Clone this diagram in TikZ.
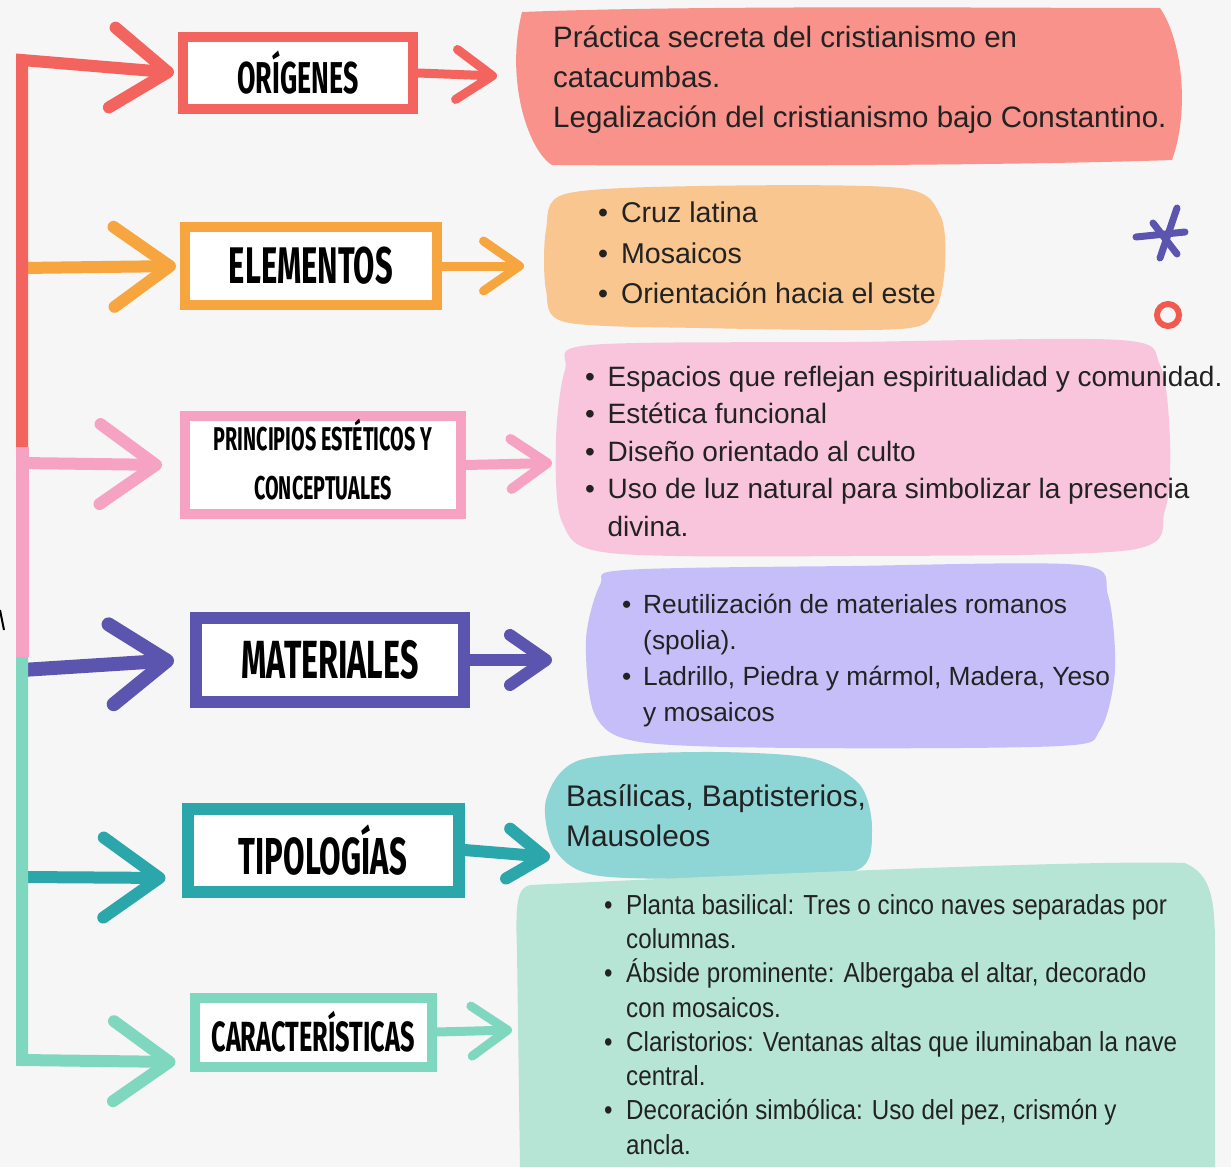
\documentclass[tikz,border=0pt]{standalone}
\usepackage{fontspec}
\usepackage{graphicx}
\setmainfont{Liberation Sans}
\newfontfamily\titlefont{Fira Sans}[FakeStretch=0.6]
\newfontfamily\condfont{Liberation Sans}[FakeStretch=0.88]
\usetikzlibrary{arrows.meta}
\definecolor{bg}{HTML}{F6F6F6}
\definecolor{cRed}{HTML}{F4645E}
\definecolor{cOrange}{HTML}{F7A63F}
\definecolor{cPink}{HTML}{F6A3C3}
\definecolor{cPurple}{HTML}{5B55AF}
\definecolor{cTeal}{HTML}{2BA6AA}
\definecolor{cMint}{HTML}{80D7BF}
\definecolor{bRed}{HTML}{F8928A}
\definecolor{bOrange}{HTML}{F9C68F}
\definecolor{bPink}{HTML}{F9C5DC}
\definecolor{bPurple}{HTML}{C5BEF8}
\definecolor{bTeal}{HTML}{8ED5D6}
\definecolor{bMint}{HTML}{B6E4D5}
\definecolor{dot}{HTML}{F05A4F}
\definecolor{txt}{HTML}{222222}
\newcommand\ttl[2]{\resizebox{#1}{!}{\titlefont\bfseries #2}}
\newcommand\bul{\makebox[0.8em][l]{•}}
\newcommand\ind{\hspace*{0.8em}}
\tikzset{
  box/.style={draw, fill=white, line width=10pt, rectangle, inner sep=0pt},
  chev/.style={line width=12pt, line join=miter, -{Straight Barb[length=56pt,width=80pt,round]}, shorten >=4pt},
  outarr/.style={line width=9pt, -{Straight Barb[length=36pt,width=50pt,round]}},
  trunk/.style={line width=13pt},
  body/.style={anchor=north west, inner sep=0pt, align=left, text=txt},
  deco/.style={cPurple, line width=7pt, line cap=round},
}
\begin{document}
\begin{tikzpicture}[x=1pt,y=-1pt]
\useasboundingbox (0,0) rectangle (1231,1167);
\fill[bg] (0,0) rectangle (1231,1167);

% blobs
\fill[bRed] (522,12) .. controls (700,5) and (1000,8) .. (1160,8)
  .. controls (1182,40) and (1190,110) .. (1172,160)
  .. controls (1000,166) and (700,166) .. (552,165)
  .. controls (528,150) and (505,80) .. (522,12) -- cycle;
\fill[bOrange] plot[smooth cycle, tension=0.5] coordinates {(565,194) (700,186) (900,188) (940,215) (945,265) (935,310) (900,329) (700,328) (565,322) (546,290) (546,230)};
\fill[bPink] plot[smooth cycle, tension=0.5] coordinates {(590,345) (850,342) (1120,340) (1160,365) (1170,440) (1165,510) (1130,550) (850,556) (610,553) (562,522) (556,440) (565,370)};
\fill[bPurple] plot[smooth cycle, tension=0.5] coordinates {(625,570) (850,566) (1080,565) (1108,595) (1115,670) (1100,730) (1060,746) (800,748) (640,742) (595,715) (586,640) (600,585)};
\fill[bTeal] plot[smooth cycle, tension=0.5] coordinates {(580,760) (700,752) (810,758) (860,785) (872,830) (857,870) (750,878) (600,876) (555,850) (546,800)};
\fill[bMint] (530,885) .. controls (800,872) and (1100,860) .. (1185,863)
  .. controls (1212,875) and (1215,900) .. (1215,950) -- (1215,1167) -- (520,1167) -- (517,950)
  .. controls (515,900) and (518,888) .. (530,885) -- cycle;

% decorations
\draw[deco] (1177,208) -- (1160,258);
\draw[deco] (1136,237) -- (1185,232);
\draw[deco] (1153,223) -- (1177,254);
\draw[dot, line width=6pt] (1168,315) circle (11);
\draw[black, line width=2pt] (0,610) -- (4,630);

% body texts
\node[body, font=\fontsize{29.5}{40}\selectfont] (tO) at (553,26)
 {Práctica secreta del cristianismo en\\catacumbas.\\Legalización del cristianismo bajo Constantino.};
\node[body, font=\fontsize{28.6}{40.5}\selectfont] (tE) at (598,202)
 {\bul Cruz latina\\\bul Mosaicos\\\bul Orientación hacia el este};
\node[body, font=\fontsize{28}{37.5}\selectfont] (tP) at (585,366)
 {\bul Espacios que reflejan espiritualidad y comunidad.\\\bul Estética funcional\\\bul Diseño orientado al culto\\\bul Uso de luz natural para simbolizar la presencia\\\ind divina.};
\node[body, font=\fontsize{26.3}{36}\selectfont] (tM) at (622,594)
 {\bul Reutilización de materiales romanos\\\ind (spolia).\\\bul Ladrillo, Piedra y mármol, Madera, Yeso\\\ind y mosaicos};
\node[body, font=\fontsize{29.8}{40}\selectfont] (tT) at (566,784)
 {Basílicas, Baptisterios,\\Mausoleos};
\node[body, font=\condfont\fontsize{27.5}{34.3}\selectfont] (tC) at (604,894)
 {\bul Planta basilical: Tres o cinco naves separadas por\\\ind columnas.\\\bul Ábside prominente: Albergaba el altar, decorado\\\ind con mosaicos.\\\bul Claristorios: Ventanas altas que iluminaban la nave\\\ind central.\\\bul Decoración simbólica: Uso del pez, crismón y\\\ind ancla.};

% boxes
\node[box, draw=cRed, minimum width=230pt, minimum height=72pt] (orig) at (298,73) {\ttl{121pt}{ORÍGENES}};
\node[box, draw=cOrange, minimum width=252pt, minimum height=78pt] (elem) at (311,266) {\ttl{164pt}{ELEMENTOS}};
\node[box, draw=cPink, minimum width=276pt, minimum height=84pt] (princ) at (323,465) {\ttl{218pt}{\fontsize{10}{15}\selectfont\begin{tabular}{@{}c@{}}PRINCIPIOS ESTÉTICOS Y\\CONCEPTUALES\end{tabular}}};
\node[box, draw=cPurple, line width=12pt, minimum width=268pt, minimum height=84pt] (mat) at (330,660) {\ttl{177pt}{MATERIALES}};
\node[box, draw=cTeal, line width=12pt, minimum width=271pt, minimum height=83pt] (tip) at (323,850) {\ttl{168pt}{TIPOLOGÍAS}};
\node[box, draw=cMint, minimum width=237pt, minimum height=69pt] (carac) at (313,1032) {\ttl{203pt}{CARACTERÍSTICAS}};

% trunk coordinates
\coordinate (tTop) at (22,60);
\coordinate (tRP) at (22,447);
\coordinate (tPM) at (22,657);
\coordinate (tBot) at (22,1060);
\coordinate (bE) at (22,268);
\coordinate (bP) at (22,463);
\coordinate (bM) at (22,670);
\coordinate (bT) at (22,877);

% branches
\draw[chev, cOrange] (bE) -- (elem.west);
\draw[chev, cPink] (bP) -- ([xshift=-14pt]princ.west);
\draw[chev, cPurple, line width=14pt] (bM) -- ([xshift=-12pt]mat.west);
\draw[chev, cTeal] (bT) -- ([yshift=-28pt,xshift=-12pt]tip.west);
\draw[chev, cRed] (tRP) -- (tTop) -- (orig.west);
\draw[trunk, cPink] (tRP) -- (tPM);
\draw[chev, cMint] (tPM) -- (tBot) -- ([yshift=-30pt,xshift=-10pt]carac.west);

% out arrows
\coordinate (oO) at (497,76);
\coordinate (oE) at (524,266);
\coordinate (oP) at (552,463);
\coordinate (oM) at (552,660);
\coordinate (oT) at (550,857);
\coordinate (oC) at (512,1030);
\draw[outarr, cRed] (orig.east) -- (oO);
\draw[outarr, cOrange] (elem.east) -- (oE);
\draw[outarr, cPink, line width=10pt] (princ.east) -- (oP);
\draw[outarr, cPurple, line width=12pt] (mat.east) -- (oM);
\draw[outarr, cTeal, line width=12pt] (tip.east) -- (oT);
\draw[outarr, cMint] (carac.east) -- (oC);
\end{tikzpicture}
\end{document}
